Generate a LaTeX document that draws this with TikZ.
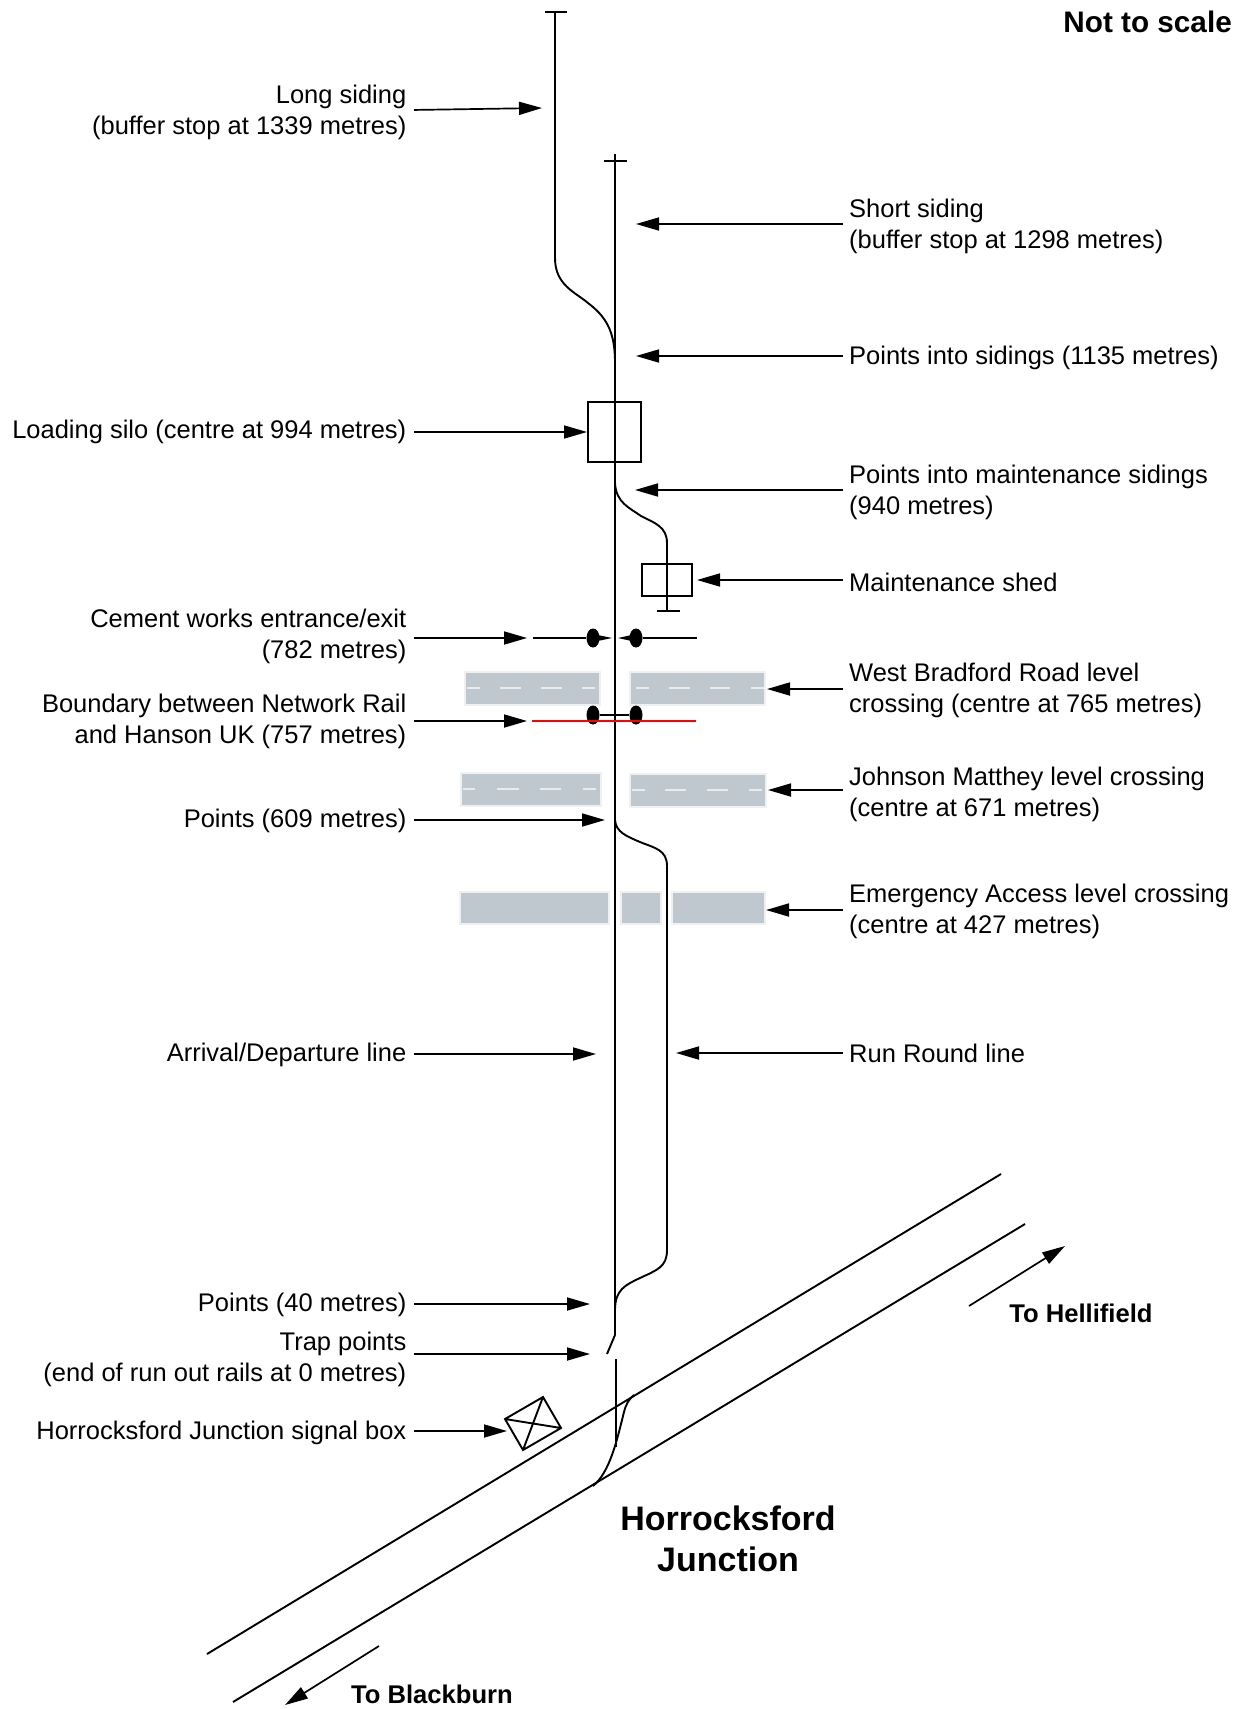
\documentclass[tikz,border=0pt]{standalone}
\usepackage{fontspec}
\setmainfont{Liberation Sans}
\usetikzlibrary{arrows.meta,positioning,shapes.geometric}

\begin{document}
\begin{tikzpicture}[
	x=1pt,
	y=-1pt,
	align=center,
	track/.style={
		draw=black,
		line width=1.9pt
	},
	road/.style={
		draw=black!6,
		fill=roadgrey,
		line width=1.2pt
	},
	roaddash/.style={
		draw=black!8,
		line width=1.5pt
	},
	lamp/.style={
		ellipse,
		fill=black,
		minimum width=13pt,
		minimum height=19pt,
		inner sep=0pt
	},
	pointer/.style={
		-{Triangle[length=23pt,width=13pt]},
		line width=1.7pt
	},
	lefttext/.style={
		anchor=east,
		align=right,
		inner sep=4pt,
		font=\fontsize{25.5}{31}\selectfont
	},
	righttext/.style={
		anchor=west,
		align=left,
		inner sep=4pt,
		font=\fontsize{25.5}{31}\selectfont
	},
	boldtext/.style={
		inner sep=0pt,
		font=\fontsize{25.6}{31}\selectfont\bfseries
	},
	scaletext/.style={
		inner sep=0pt,
		font=\fontsize{29.7}{31}\selectfont\bfseries
	},
	bigtext/.style={
		inner sep=0pt,
		font=\fontsize{34}{41}\selectfont\bfseries
	}]
	\definecolor{roadgrey}{HTML}{BEC8CE}
	\useasboundingbox (0,0) rectangle (1244,1709);

	% roads
	\path[road] (465,672) rectangle (600,705);
	\path[road] (630,672) rectangle (765,705);
	\path[road] (461,773) rectangle (601,806);
	\path[road] (630,774) rectangle (766,807);
	\path[road] (460,892) rectangle (609,924);
	\path[road] (621,892) rectangle (661,924);
	\path[road] (672,892) rectangle (765,924);
	\path[roaddash]
		(467,688) -- (480,688) (500,688) -- (521,688) (541,688) -- (562,688) (582,688) -- (595,688)
		(636,688) -- (649,688) (669,688) -- (690,688) (710,688) -- (730,688) (751,688) -- (764,688)
		(463,789) -- (475,789) (497,789) -- (519,789) (540,789) -- (561,789) (583,789) -- (596,789)
		(632,790) -- (645,790) (665,790) -- (686,790) (707,790) -- (728,790) (749,790) -- (762,790);

	% tracks
	\draw[track] (615,154) -- (615,1335) -- (607,1354);
	\draw[track] (545,12) -- (567,12);
	\draw[track] (604,161) -- (627,161);
	\draw[track] (555,12) -- (555,258) .. controls (555,285) and (575,292) .. (588,303)
		.. controls (605,316) and (615,330) .. (615,362);
	\draw[track] (615,483) .. controls (616,503) and (630,508) .. (641,516)
		.. controls (655,523) and (667,527) .. (667,543) -- (667,611);
	\draw[track] (657,611) -- (680,611);
	\draw[track] (615,820) .. controls (616,832) and (626,836) .. (640,842)
		.. controls (655,848) and (667,850) .. (667,866) -- (667,1250)
		.. controls (667,1267) and (657,1270) .. (640,1278)
		.. controls (625,1285) and (615,1290) .. (615,1310);
	\draw[track] (616,1359) -- (616,1447);
	\draw[track] (207,1654) -- (1001,1174);
	\draw[track] (233,1702) -- (1025,1224);
	\draw[track] (593,1486) .. controls (610,1472) and (617,1440) .. (624,1412)
		.. controls (626,1404) and (629,1399) .. (634,1395);

	% buildings
	\node[track,minimum width=53pt,minimum height=60pt,inner sep=0pt] (silo) at (614.5,432) {};
	\node[track,minimum width=50pt,minimum height=31.5pt,inner sep=0pt] (shed) at (667,580) {};
	\coordinate (boxa) at (505,1419);
	\coordinate (boxb) at (543,1397);
	\coordinate (boxc) at (561,1428);
	\coordinate (boxd) at (523,1450);
	\draw[track] (boxa) -- (boxb) -- (boxc) -- (boxd) -- cycle (boxa) -- (boxc) (boxb) -- (boxd);

	% gates and boundary
	\node[lamp] (gatea) at (593,638) {};
	\node[lamp] (gateb) at (636,638) {};
	\node[lamp] (gatec) at (593,715) {};
	\node[lamp] (gated) at (636,715) {};
	\draw[track] (533,638) -- (gatea);
	\draw[track] (gateb) -- (697,638);
	\fill (gatea.center) ++(0,-4) -- (612,638) -- (593,642) -- cycle;
	\fill (gateb.center) ++(0,-4) -- (618,638) -- (636,642) -- cycle;
	\draw[track] (gatec) -- (gated);
	\draw[red,line width=1.9pt] (532,721) -- (696,721);

	% labels
	\node[lefttext] (longtext) at (410.5,112) {Long siding\\(buffer stop at 1339 metres)};
	\node[righttext] (shorttext) at (845,226) {Short siding\\(buffer stop at 1298 metres)};
	\node[righttext] (pointstext) at (845,358) {Points into sidings (1135 metres)};
	\node[lefttext] (silotext) at (410.5,432) {Loading silo (centre at 994 metres)};
	\node[righttext] (mainttext) at (845,492) {Points into maintenance sidings\\(940 metres)};
	\node[righttext] (shedtext) at (845,582) {Maintenance shed};
	\node[lefttext] (cementtext) at (410.5,636) {Cement works entrance/exit\\(782 metres)};
	\node[righttext] (westtext) at (845,690) {West Bradford Road level\\crossing (centre at 765 metres)};
	\node[lefttext] (boundtext) at (410.5,721) {Boundary between Network Rail\\and Hanson UK (757 metres)};
	\node[righttext] (johnsontext) at (845,794) {Johnson Matthey level crossing\\(centre at 671 metres)};
	\node[lefttext] (pointbtext) at (410.5,821) {Points (609 metres)};
	\node[righttext] (emergtext) at (845,911) {Emergency Access level crossing\\(centre at 427 metres)};
	\node[lefttext] (arrivetext) at (410.5,1055) {Arrival/Departure line};
	\node[righttext] (roundtext) at (845,1053) {Run Round line};
	\node[lefttext] (pointctext) at (410.5,1305) {Points (40 metres)};
	\node[lefttext] (traptext) at (410.5,1359) {Trap points\\(end of run out rails at 0 metres)};
	\node[lefttext] (boxtext) at (410.5,1433) {Horrocksford Junction signal box};
	\node[scaletext,anchor=east] (scalelabel) at (1232,22) {Not to scale};
	\node[boldtext] (hellitext) at (1081,1313) {To Hellifield};
	\node[boldtext] (blacktext) at (432,1694) {To Blackburn};
	\node[bigtext] (junctext) at (728,1539) {Horrocksford\\Junction};

	% arrow ends
	\coordinate (tiplong) at (542,108);
	\coordinate (tipshort) at (636,224);
	\coordinate (tippoints) at (636,356);
	\coordinate (tipsilo) at (587,432);
	\coordinate (tipmaint) at (635,490);
	\coordinate (tipshed) at (697,580);
	\coordinate (tipcement) at (527,638);
	\coordinate (tipwest) at (767,689);
	\coordinate (tipbound) at (527,721);
	\coordinate (tipjohnson) at (768,790);
	\coordinate (tippointb) at (605,820);
	\coordinate (tipemerg) at (766,910);
	\coordinate (tiparrive) at (596,1054);
	\coordinate (tipround) at (676,1053);
	\coordinate (tippointc) at (590,1304);
	\coordinate (tiptrap) at (590,1354);
	\coordinate (tipbox) at (507,1431);
	\coordinate (hellia) at (969,1306);
	\coordinate (hellib) at (1065,1246);
	\coordinate (blacka) at (379,1646);
	\coordinate (blackb) at (285,1705);

	\path[pointer,shorten <=3.5pt]
		([yshift=2pt]longtext.east) edge (tiplong)
		(silotext.east |- tipsilo) edge (tipsilo)
		(cementtext.east |- tipcement) edge (tipcement)
		(boundtext.east |- tipbound) edge (tipbound)
		(pointbtext.east |- tippointb) edge (tippointb)
		(arrivetext.east |- tiparrive) edge (tiparrive)
		(pointctext.east |- tippointc) edge (tippointc)
		(traptext.east |- tiptrap) edge (tiptrap)
		(boxtext.east |- tipbox) edge (tipbox);
	\path[pointer,shorten <=2pt]
		(shorttext.west |- tipshort) edge (tipshort)
		(pointstext.west |- tippoints) edge (tippoints)
		(mainttext.west |- tipmaint) edge (tipmaint)
		(shedtext.west |- tipshed) edge (tipshed)
		(westtext.west |- tipwest) edge (tipwest)
		(johnsontext.west |- tipjohnson) edge (tipjohnson)
		(emergtext.west |- tipemerg) edge (tipemerg)
		(roundtext.west |- tipround) edge (tipround);
	\path[pointer]
		(hellia) edge (hellib)
		(blacka) edge (blackb);
\end{tikzpicture}
\end{document}
